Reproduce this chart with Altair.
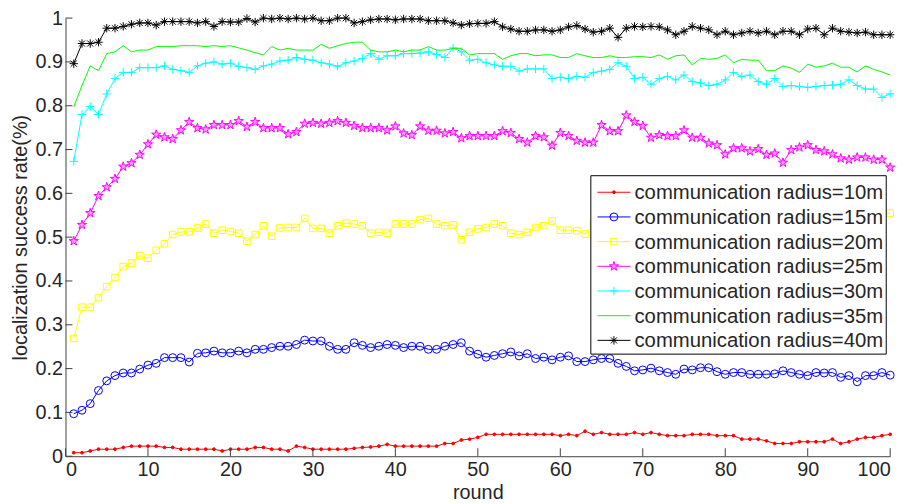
import altair as alt
import pandas as pd

rounds = list(range(1, 101))
labels = ["communication radius=10m", "communication radius=15m", "communication radius=20m",
          "communication radius=25m", "communication radius=30m", "communication radius=35m",
          "communication radius=40m"]
colors = ["#ff0000", "#0000ff", "#ffff00", "#ff00ff", "#00ffff", "#00ff00", "#000000"]

r10 = [0.008, 0.008, 0.012, 0.016, 0.016, 0.016, 0.020, 0.023, 0.023, 0.023,
       0.023, 0.020, 0.020, 0.016, 0.016, 0.016, 0.016, 0.016, 0.012, 0.016,
       0.016, 0.016, 0.020, 0.020, 0.016, 0.016, 0.012, 0.023, 0.020, 0.016,
       0.016, 0.016, 0.016, 0.016, 0.018, 0.020, 0.021, 0.023, 0.027, 0.023,
       0.023, 0.023, 0.023, 0.023, 0.023, 0.029, 0.029, 0.037, 0.039, 0.043,
       0.050, 0.050, 0.050, 0.050, 0.050, 0.050, 0.050, 0.050, 0.050, 0.047,
       0.050, 0.047, 0.057, 0.050, 0.054, 0.050, 0.050, 0.050, 0.054, 0.050,
       0.054, 0.050, 0.047, 0.047, 0.047, 0.050, 0.050, 0.050, 0.047, 0.047,
       0.047, 0.039, 0.039, 0.039, 0.035, 0.029, 0.029, 0.029, 0.033, 0.033,
       0.033, 0.033, 0.039, 0.029, 0.033, 0.039, 0.043, 0.043, 0.047, 0.050]
r15 = [0.097, 0.105, 0.120, 0.150, 0.172, 0.184, 0.190, 0.190, 0.199, 0.208,
       0.212, 0.225, 0.225, 0.225, 0.215, 0.235, 0.236, 0.240, 0.236, 0.236,
       0.240, 0.236, 0.244, 0.244, 0.248, 0.251, 0.251, 0.255, 0.265, 0.263,
       0.263, 0.251, 0.244, 0.244, 0.259, 0.253, 0.248, 0.251, 0.255, 0.253,
       0.248, 0.251, 0.251, 0.244, 0.244, 0.251, 0.255, 0.259, 0.240, 0.233,
       0.226, 0.230, 0.234, 0.238, 0.229, 0.234, 0.223, 0.226, 0.220, 0.226,
       0.229, 0.216, 0.216, 0.220, 0.223, 0.223, 0.212, 0.205, 0.195, 0.197,
       0.201, 0.195, 0.191, 0.187, 0.199, 0.197, 0.202, 0.202, 0.193, 0.187,
       0.191, 0.191, 0.187, 0.187, 0.187, 0.188, 0.195, 0.191, 0.187, 0.184,
       0.191, 0.190, 0.191, 0.180, 0.184, 0.170, 0.184, 0.184, 0.191, 0.185]
r20 = [0.269, 0.340, 0.340, 0.362, 0.387, 0.408, 0.433, 0.441, 0.458, 0.452,
       0.470, 0.485, 0.506, 0.512, 0.512, 0.521, 0.530, 0.509, 0.516, 0.513,
       0.509, 0.491, 0.506, 0.526, 0.502, 0.521, 0.522, 0.522, 0.543, 0.520,
       0.520, 0.509, 0.526, 0.532, 0.530, 0.526, 0.509, 0.511, 0.509, 0.530,
       0.530, 0.530, 0.540, 0.543, 0.530, 0.526, 0.528, 0.494, 0.511, 0.519,
       0.522, 0.530, 0.526, 0.509, 0.506, 0.511, 0.522, 0.526, 0.537, 0.516,
       0.516, 0.515, 0.507, 0.530, 0.520, 0.510, 0.520, 0.540, 0.530, 0.520,
       0.530, 0.520, 0.510, 0.520, 0.530, 0.520, 0.530, 0.520, 0.510, 0.520,
       0.530, 0.540, 0.530, 0.520, 0.530, 0.520, 0.530, 0.540, 0.530, 0.520,
       0.530, 0.540, 0.530, 0.540, 0.550, 0.540, 0.530, 0.540, 0.550, 0.555]
r25 = [0.491, 0.528, 0.555, 0.594, 0.614, 0.633, 0.661, 0.669, 0.688, 0.712,
       0.734, 0.728, 0.724, 0.744, 0.763, 0.749, 0.746, 0.756, 0.756, 0.756,
       0.765, 0.752, 0.763, 0.749, 0.749, 0.749, 0.735, 0.740, 0.759, 0.761,
       0.759, 0.761, 0.765, 0.761, 0.754, 0.749, 0.749, 0.749, 0.744, 0.753,
       0.737, 0.733, 0.753, 0.743, 0.743, 0.737, 0.740, 0.726, 0.731, 0.731,
       0.731, 0.731, 0.742, 0.738, 0.724, 0.716, 0.731, 0.728, 0.709, 0.738,
       0.731, 0.720, 0.716, 0.716, 0.756, 0.742, 0.742, 0.778, 0.763, 0.754,
       0.727, 0.733, 0.731, 0.731, 0.744, 0.727, 0.727, 0.714, 0.710, 0.689,
       0.703, 0.703, 0.696, 0.701, 0.688, 0.691, 0.670, 0.699, 0.705, 0.710,
       0.699, 0.696, 0.689, 0.680, 0.677, 0.682, 0.682, 0.677, 0.677, 0.659]
r30 = [0.673, 0.780, 0.798, 0.780, 0.827, 0.862, 0.876, 0.876, 0.887, 0.887,
       0.887, 0.891, 0.883, 0.880, 0.876, 0.891, 0.897, 0.900, 0.895, 0.897,
       0.890, 0.887, 0.883, 0.891, 0.895, 0.902, 0.904, 0.910, 0.906, 0.904,
       0.898, 0.895, 0.890, 0.898, 0.902, 0.908, 0.919, 0.906, 0.914, 0.914,
       0.919, 0.919, 0.920, 0.923, 0.917, 0.910, 0.932, 0.923, 0.904, 0.906,
       0.898, 0.893, 0.890, 0.890, 0.879, 0.884, 0.884, 0.884, 0.862, 0.865,
       0.862, 0.867, 0.865, 0.876, 0.879, 0.883, 0.898, 0.890, 0.862, 0.865,
       0.849, 0.862, 0.867, 0.859, 0.870, 0.855, 0.852, 0.846, 0.849, 0.859,
       0.876, 0.867, 0.870, 0.855, 0.849, 0.862, 0.844, 0.846, 0.844, 0.842,
       0.844, 0.846, 0.847, 0.849, 0.859, 0.846, 0.838, 0.838, 0.819, 0.827]
r35 = [0.797, 0.846, 0.891, 0.880, 0.919, 0.923, 0.937, 0.923, 0.927, 0.927,
       0.935, 0.935, 0.935, 0.937, 0.937, 0.937, 0.935, 0.937, 0.935, 0.937,
       0.932, 0.927, 0.921, 0.916, 0.935, 0.927, 0.931, 0.927, 0.927, 0.927,
       0.940, 0.931, 0.937, 0.942, 0.945, 0.945, 0.927, 0.923, 0.923, 0.927,
       0.923, 0.927, 0.927, 0.935, 0.927, 0.927, 0.931, 0.931, 0.916, 0.919,
       0.919, 0.919, 0.906, 0.914, 0.919, 0.919, 0.914, 0.916, 0.916, 0.910,
       0.910, 0.919, 0.914, 0.910, 0.910, 0.914, 0.910, 0.910, 0.912, 0.912,
       0.910, 0.916, 0.906, 0.914, 0.916, 0.893, 0.908, 0.906, 0.908, 0.916,
       0.898, 0.906, 0.904, 0.904, 0.880, 0.880, 0.891, 0.886, 0.876, 0.895,
       0.888, 0.891, 0.897, 0.888, 0.888, 0.877, 0.891, 0.883, 0.877, 0.870]
r40 = [0.896, 0.942, 0.942, 0.945, 0.977, 0.977, 0.981, 0.986, 0.989, 0.989,
       0.984, 0.992, 0.992, 0.992, 0.992, 0.989, 0.992, 0.981, 0.992, 0.991,
       0.991, 0.999, 0.991, 1.000, 0.998, 1.000, 0.998, 1.000, 0.998, 1.000,
       0.994, 0.994, 1.000, 1.000, 0.989, 0.992, 0.996, 0.998, 0.998, 0.996,
       0.998, 0.998, 0.998, 0.994, 0.994, 0.994, 0.989, 0.984, 0.987, 0.988,
       0.988, 0.992, 0.980, 0.975, 0.970, 0.970, 0.973, 0.973, 0.970, 0.973,
       0.980, 0.983, 0.975, 0.968, 0.970, 0.977, 0.956, 0.977, 0.981, 0.980,
       0.981, 0.980, 0.973, 0.962, 0.970, 0.981, 0.977, 0.973, 0.962, 0.970,
       0.962, 0.966, 0.970, 0.966, 0.970, 0.962, 0.970, 0.970, 0.962, 0.975,
       0.977, 0.962, 0.977, 0.970, 0.968, 0.966, 0.968, 0.962, 0.962, 0.962]

series = [r10, r15, r20, r25, r30, r35, r40]
x_ticks = list(range(0, 101, 10))
y_ticks = [i / 10 for i in range(0, 11)]

STAR = ("M0,-1L0.225,-0.309L0.951,-0.309L0.363,0.118L0.588,0.809L0,0.382"
        "L-0.588,0.809L-0.363,0.118L-0.951,-0.309L-0.225,-0.309Z")
PLUS = "M-1,0L1,0M0,-1L0,1"
ASTER = "M-1,0L1,0M0,-1L0,1M-0.72,-0.72L0.72,0.72M-0.72,0.72L0.72,-0.72"
# (shape, size, fill colour or None)
markers = [("circle", 8, "#ff0000"), ("circle", 64, None), ("square", 44, None),
           (STAR, 95, "#ff9cff"), (PLUS, 72, None), (None, 0, None), (ASTER, 72, None)]

FONT = "Liberation Sans"
AX = "#404040"
TXT = "#262626"
W, H = 832, 442

xs = alt.Scale(domain=[0, 100], nice=False, zero=False)
ys = alt.Scale(domain=[0, 1], nice=False)
xaxis = alt.Axis(values=x_ticks, title="round", format="d", grid=False, tickSize=0,
                 labelPadding=3, titlePadding=4)
yaxis = alt.Axis(values=y_ticks, title="localization success rate(%)", format="~g",
                 grid=False, tickSize=0, labelPadding=3, titlePadding=5)
X = alt.X("round:Q", scale=xs, axis=xaxis)
Y = alt.Y("value:Q", scale=ys, axis=yaxis)


def marker_mark(chart, col, shape, size, fill):
    if shape is None:
        return None
    if fill is not None:
        return chart.mark_point(shape=shape, size=size, filled=True, fill=fill, stroke=col,
                                strokeWidth=1, opacity=1, fillOpacity=1)
    return chart.mark_point(shape=shape, size=size, filled=False, color=col,
                            strokeWidth=1, opacity=1)


layers = []
for lab, col, vals, (shape, size, fill) in zip(labels, colors, series, markers):
    df = pd.DataFrame({"round": rounds, "value": vals, "series": lab})
    base = alt.Chart(df)
    layers.append(base.mark_line(color=col, strokeWidth=1).encode(x=X, y=Y))
    m = marker_mark(base, col, shape, size, fill)
    if m is not None:
        layers.append(m.encode(x=X, y=Y))

# inward ticks (MATLAB style)
ytdf = pd.DataFrame({"value": y_ticks})
layers.append(alt.Chart(ytdf).mark_rule(color=AX, strokeWidth=1).encode(
    y=Y, x=alt.value(0), x2=alt.value(7)))
xtdf = pd.DataFrame({"round": x_ticks})
layers.append(alt.Chart(xtdf).mark_rule(color=AX, strokeWidth=1).encode(
    x=X, y=alt.value(H), y2=alt.value(H - 8)))

# legend box
one = pd.DataFrame({"k": [0]})
layers.append(alt.Chart(one).mark_rect(fill="white", stroke="black", strokeWidth=1).encode(
    x=alt.value(530), x2=alt.value(828), y=alt.value(159), y2=alt.value(339)))
for i, (lab, col, (shape, size, fill)) in enumerate(zip(labels, colors, markers)):
    yy = 175.7 + 24.9 * i
    ldf = pd.DataFrame({"label": [lab]})
    lc = alt.Chart(ldf)
    layers.append(lc.mark_rule(color=col, strokeWidth=1).encode(
        x=alt.value(536.7), x2=alt.value(570), y=alt.value(yy)))
    m = marker_mark(lc, col, shape, size, fill)
    if m is not None:
        layers.append(m.encode(x=alt.value(553.3), y=alt.value(yy)))
    layers.append(lc.mark_text(align="left", baseline="middle", font=FONT, fontSize=20.5,
                               color=TXT).encode(
        x=alt.value(574), y=alt.value(yy + 1), text="label:N"))

chart = alt.layer(*layers).properties(
    width=W, height=H,
    padding={"left": 58, "top": 8, "right": 21, "bottom": 46},
    autosize=alt.AutoSizeParams(type="none"),
).configure_view(stroke=None).configure_axis(
    labelFont=FONT, labelFontSize=20, labelColor=TXT,
    titleFont=FONT, titleFontSize=20, titleFontWeight="normal", titleColor=TXT,
    domainColor=AX, domainWidth=1,
)

chart.save("out.html", embed_options={"renderer": "svg", "actions": False})
